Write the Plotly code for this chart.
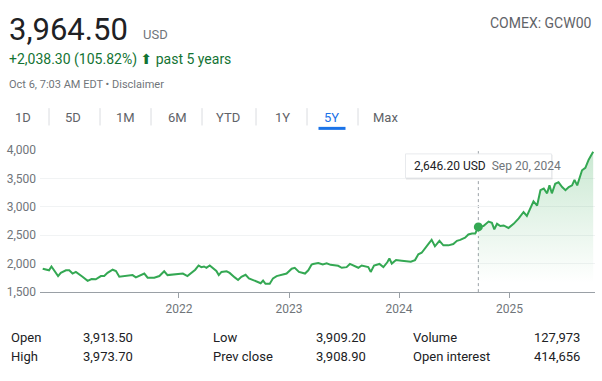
import plotly.graph_objects as go

# ---------------- data ----------------
dates = [
    "2020-10-06", "2020-10-27", "2020-11-04", "2020-11-13", "2020-11-26", "2020-12-05", "2020-12-22",
    "2021-01-02", "2021-01-13", "2021-01-24", "2021-02-04", "2021-02-15", "2021-03-04", "2021-03-17",
    "2021-03-31", "2021-04-17", "2021-04-28", "2021-05-09", "2021-05-26", "2021-06-06", "2021-06-17",
    "2021-07-04", "2021-07-20", "2021-07-31", "2021-08-11", "2021-08-28", "2021-09-08", "2021-09-19",
    "2021-10-11", "2021-10-28", "2021-11-13", "2021-11-24", "2021-12-17",
    "2022-01-03", "2022-01-14", "2022-01-29", "2022-02-11", "2022-02-24", "2022-03-07", "2022-03-16",
    "2022-03-25", "2022-04-02", "2022-04-13", "2022-04-24", "2022-05-05", "2022-05-13", "2022-05-22",
    "2022-06-08", "2022-06-18", "2022-07-05", "2022-07-16", "2022-07-27", "2022-08-10", "2022-08-21",
    "2022-09-04", "2022-09-19", "2022-09-29", "2022-10-07", "2022-10-15", "2022-10-29", "2022-11-09",
    "2022-11-21", "2022-12-07", "2022-12-24",
    "2023-01-10", "2023-01-20", "2023-02-03", "2023-02-23", "2023-03-06", "2023-03-17", "2023-03-22",
    "2023-04-08", "2023-04-23", "2023-05-06", "2023-05-19", "2023-06-02", "2023-06-13", "2023-06-25",
    "2023-07-11", "2023-07-22", "2023-08-08", "2023-08-19", "2023-08-30", "2023-09-10", "2023-09-21",
    "2023-09-29", "2023-10-10", "2023-10-28", "2023-11-10", "2023-11-23", "2023-11-30", "2023-12-08",
    "2023-12-22",
    "2024-01-10", "2024-01-27", "2024-02-09", "2024-02-23", "2024-03-05", "2024-03-16", "2024-03-27",
    "2024-04-07", "2024-04-18", "2024-04-29", "2024-05-14", "2024-05-27", "2024-06-13", "2024-06-29",
    "2024-07-11", "2024-07-22", "2024-08-07", "2024-08-18", "2024-08-30", "2024-09-10", "2024-09-20",
    "2024-10-07", "2024-10-24", "2024-11-04", "2024-11-12", "2024-11-21", "2024-12-02", "2024-12-13",
    "2024-12-29",
    "2025-01-15", "2025-02-01", "2025-02-17", "2025-02-28", "2025-03-11", "2025-03-22", "2025-04-03",
    "2025-04-14", "2025-04-25", "2025-05-06", "2025-05-14", "2025-05-22", "2025-06-02", "2025-06-13",
    "2025-06-25", "2025-07-06", "2025-07-17", "2025-07-28", "2025-08-05", "2025-08-14", "2025-08-30",
    "2025-09-10", "2025-09-21", "2025-10-06",
]
prices = [
    1911, 1883, 1951, 1872, 1782, 1838, 1883,
    1883, 1826, 1855, 1816, 1770, 1698, 1731,
    1726, 1782, 1782, 1838, 1894, 1872, 1770,
    1782, 1804, 1799, 1759, 1799, 1826, 1753,
    1753, 1782, 1866, 1799, 1816,
    1816, 1826, 1782, 1838, 1894, 1968, 1939,
    1951, 1928, 1968, 1928, 1872, 1799, 1855,
    1866, 1838, 1759, 1714, 1770, 1804, 1742,
    1714, 1680, 1657, 1703, 1647, 1647, 1742,
    1782, 1799, 1826,
    1911, 1928, 1855, 1826, 1883, 1985, 1995,
    2012, 1985, 2006, 1979, 1968, 1962, 1928,
    1939, 1995, 1951, 1928, 1968, 1951, 1939,
    1855, 1968, 1995, 1939, 2024, 2091, 2001,
    2063,
    2052, 2040, 2035, 2063, 2164, 2192, 2277,
    2345, 2418, 2305, 2401, 2322, 2322, 2345,
    2401, 2418, 2458, 2514, 2531, 2531, 2646.2,
    2661, 2739, 2717, 2604, 2700, 2661, 2672,
    2627,
    2700, 2796, 2908, 2840, 2982, 3094, 3021,
    3291, 3320, 3236, 3376, 3236, 3404, 3432,
    3347, 3291, 3347, 3376, 3472, 3376, 3641,
    3685, 3827, 3964.5,
]

hover_date = "2024-09-20"
hover_value = 2646.20
hover_label = "2,646.20 USD"
hover_date_label = "Sep 20, 2024"

y_ticks = [1500, 2000, 2500, 3000, 3500, 4000]
x_ticks = ["2022-01-01", "2023-01-01", "2024-01-01", "2025-01-01"]
x_tick_labels = ["2022", "2023", "2024", "2025"]

price_text = "3,964.50"
currency = "USD"
change_text = "+2,038.30 (105.82%)"
period_text = "past 5 years"
timestamp_text = "Oct 6, 7:03 AM EDT • Disclaimer"
ticker_text = "COMEX: GCW00"
tabs = ["1D", "5D", "1M", "6M", "YTD", "1Y", "5Y", "Max"]
active_tab = "5Y"

stat_labels = [["Open", "High"], ["Low", "Prev close"], ["Volume", "Open interest"]]
stat_values = [["3,913.50", "3,973.70"], ["3,909.20", "3,908.90"], ["127,973", "414,656"]]

# ---------------- figure ----------------
W, H = 602, 381
GREEN = "#34a853"
FONT = "Roboto, Arial, sans-serif"


def px(x):
    return x / W


def py(y):
    return 1 - y / H


fig = go.Figure()

idx = dates.index(hover_date)
fig.add_trace(go.Scatter(
    x=dates[idx:], y=prices[idx:], mode="lines",
    line=dict(color="rgba(0,0,0,0)", width=0),
    fill="tozeroy",
    fillgradient=dict(type="vertical",
                      colorscale=[[0, "rgba(52,168,83,0)"], [1, "rgba(52,168,83,0.26)"]],
                      start=1750, stop=3964),
    hoverinfo="skip", showlegend=False,
))

fig.add_trace(go.Scatter(
    x=dates, y=prices, mode="lines",
    line=dict(color=GREEN, width=2),
    showlegend=False, hoverinfo="skip",
))

fig.add_trace(go.Scatter(
    x=[hover_date], y=[hover_value], mode="markers",
    marker=dict(color=GREEN, size=9),
    showlegend=False, hoverinfo="skip",
))

x0_dom, x1_dom = px(40), px(595)
y0_dom, y1_dom = py(296), py(148.3)

fig.update_layout(
    width=W, height=H,
    margin=dict(l=0, r=0, t=0, b=0),
    paper_bgcolor="white", plot_bgcolor="white",
    font=dict(family=FONT, color="#70757a", size=12),
    xaxis=dict(
        domain=[x0_dom, x1_dom],
        range=["2020-09-27", "2025-10-12"],
        type="date",
        tickvals=x_ticks, ticktext=x_tick_labels,
        showgrid=False, zeroline=False,
        showline=True, linecolor="#9aa0a6", linewidth=1,
        ticks="outside", ticklen=5, tickcolor="#9aa0a6", tickwidth=1,
        tickfont=dict(size=12, color="#70757a"),
        fixedrange=True,
    ),
    yaxis=dict(
        domain=[y0_dom, y1_dom],
        range=[1500, 4000],
        tickvals=y_ticks, tickformat=",",
        showgrid=True, gridcolor="#f1f3f4", gridwidth=1,
        zeroline=False, showline=False,
        ticks="", ticklabelstandoff=3,
        tickfont=dict(size=12, color="#70757a"),
        fixedrange=True,
    ),
)

shapes = []
annotations = []

shapes.append(dict(type="line", xref="x", yref="paper", x0=hover_date, x1=hover_date,
                   y0=py(296), y1=py(149), line=dict(color="#9aa0a6", width=1, dash="dot"),
                   layer="below"))

shapes.append(dict(type="rect", xref="paper", yref="paper",
                   x0=px(406), x1=px(552.5), y0=py(179), y1=py(153.5),
                   fillcolor="rgba(0,0,0,0.10)", line=dict(width=0)))
shapes.append(dict(type="rect", xref="paper", yref="paper",
                   x0=px(405.5), x1=px(551.5), y0=py(177.5), y1=py(152.5),
                   fillcolor="white", line=dict(color="#e8eaed", width=1)))
annotations.append(dict(xref="paper", yref="paper", x=px(412), y=py(165.5),
                        xanchor="left", yanchor="middle", showarrow=False,
                        text=f"<span style='color:#202124'>{hover_label}</span>&nbsp;&nbsp;"
                             f"<span style='color:#70757a'>{hover_date_label}</span>",
                        font=dict(size=12, family=FONT)))

annotations.append(dict(xref="paper", yref="paper", x=px(7), y=py(23), xanchor="left", yanchor="middle",
                        text=price_text, showarrow=False,
                        font=dict(size=31, color="#202124", family=FONT)))
annotations.append(dict(xref="paper", yref="paper", x=px(141), y=py(29), xanchor="left", yanchor="middle",
                        text=currency, showarrow=False,
                        font=dict(size=13, color="#70757a", family=FONT)))
annotations.append(dict(xref="paper", yref="paper", x=px(7), y=py(54.5), xanchor="left", yanchor="middle",
                        text=f"{change_text} <span style='font-family:DejaVu Sans;font-size:14px'>⬆</span> {period_text}",
                        showarrow=False,
                        font=dict(size=14, color="#137333", family=FONT)))
annotations.append(dict(xref="paper", yref="paper", x=px(7), y=py(80), xanchor="left", yanchor="middle",
                        text=timestamp_text, showarrow=False,
                        font=dict(size=11, color="#70757a", family=FONT)))
annotations.append(dict(xref="paper", yref="paper", x=px(594), y=py(17), xanchor="right", yanchor="middle",
                        text=ticker_text, showarrow=False,
                        font=dict(size=14, color="#5f6368", family=FONT)))

tab_centers = [23, 73, 125, 177, 228, 282, 332, 385]
for name, cx in zip(tabs, tab_centers):
    annotations.append(dict(xref="paper", yref="paper", x=px(cx), y=py(115), xanchor="center",
                            yanchor="middle", text=name, showarrow=False,
                            font=dict(size=13, color="#1a73e8" if name == active_tab else "#5f6368",
                                      family=FONT)))
for sx in [49, 100, 151, 202, 256, 307, 358]:
    shapes.append(dict(type="line", xref="paper", yref="paper", x0=px(sx), x1=px(sx),
                       y0=py(105), y1=py(123), line=dict(color="#dadce0", width=1)))
ac = tab_centers[tabs.index(active_tab)]
shapes.append(dict(type="line", xref="paper", yref="paper", x0=px(ac - 13.5), x1=px(ac + 13.5),
                   y0=py(126), y1=py(126), line=dict(color="#1a73e8", width=3)))

label_x = [9, 211, 411]
value_right = [135, 368, 582]
row_y = [343, 363]
for c in range(3):
    for r in range(2):
        annotations.append(dict(xref="paper", yref="paper", x=px(label_x[c]), y=py(row_y[r]),
                                xanchor="left", yanchor="middle", text=stat_labels[c][r],
                                showarrow=False, font=dict(size=13, color="#202124", family=FONT)))
        annotations.append(dict(xref="paper", yref="paper", x=px(value_right[c]), y=py(row_y[r]),
                                xanchor="right", yanchor="middle", text=stat_values[c][r],
                                showarrow=False, font=dict(size=13, color="#202124", family=FONT)))

fig.update_layout(shapes=shapes, annotations=annotations)
fig.write_html(
    "out.html",
    config={"displayModeBar": False},
    post_script="document.documentElement.style.overflow='hidden';"
                "document.body.style.margin='0';document.body.style.overflow='hidden';",
)
